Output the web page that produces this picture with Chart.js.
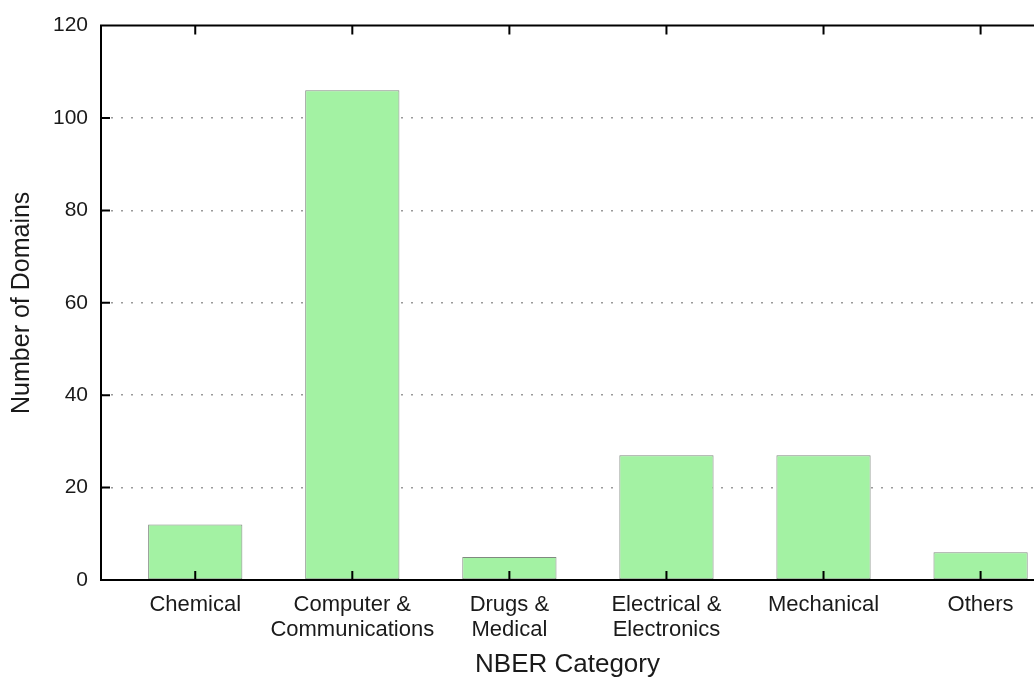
<!DOCTYPE html>
<html>
<head>
<meta charset="utf-8">
<script src="https://cdn.jsdelivr.net/npm/chart.js@4"></script>
<style>
    html, body { margin: 0; padding: 0; background: #fff; overflow: hidden; }
    #wrap { width: 1034px; height: 681px; position: relative; }
</style>
</head>
<body>
<div id="wrap"><canvas id="chart"></canvas></div>
<script>
// Dados
const categories = [
    'Chemical',
    ['Computer &', 'Communications'],
    ['Drugs &', 'Medical'],
    ['Electrical &', 'Electronics'],
    'Mechanical',
    'Others'
];
const domainCounts = [12, 106, 5, 27, 27, 6];
const yTicks = [0, 20, 40, 60, 80, 100, 120];

const TEXT = '#1a1a1a';
Chart.defaults.font.family = "'Liberation Sans', Arial, sans-serif";
Chart.defaults.color = TEXT;

// Moldura estilo gnuplot: borda superior e marcas para dentro
const frame = {
    id: 'frame',
    afterDatasetsDraw(chart) {
        const { ctx, chartArea: { top, bottom, left, right }, scales: { x, y } } = chart;
        ctx.save();
        ctx.strokeStyle = '#000';
        ctx.lineWidth = 2;
        ctx.beginPath();
        ctx.moveTo(left, top);
        ctx.lineTo(right, top);
        ctx.moveTo(left, top - 1);
        ctx.lineTo(left, bottom + 1);
        ctx.moveTo(left, bottom);
        ctx.lineTo(right, bottom);
        const len = 9;
        categories.forEach((_, i) => {
            const px = x.getPixelForValue(i);
            ctx.moveTo(px, bottom);
            ctx.lineTo(px, bottom - len);
            ctx.moveTo(px, top);
            ctx.lineTo(px, top + len);
        });
        yTicks.forEach(v => {
            const py = y.getPixelForValue(v);
            ctx.moveTo(left, py);
            ctx.lineTo(left + len, py);
        });
        ctx.stroke();
        ctx.restore();
    }
};

new Chart(document.getElementById('chart'), {
    type: 'bar',
    data: {
        datasets: [{
            label: 'Number of Domains',
            data: domainCounts.map((v, i) => ({ x: i, y: v })),
            backgroundColor: '#a3f2a3',
            borderColor: '#808a80',
            borderWidth: 1,
            borderSkipped: false,
            categoryPercentage: 1,
            barPercentage: 0.6
        }]
    },
    options: {
        responsive: true,
        maintainAspectRatio: false,
        animation: false,
        layout: { padding: { top: 22, right: 0, left: 0, bottom: 0 } },
        plugins: {
            legend: { display: false },
            tooltip: { enabled: false }
        },
        scales: {
            x: {
                type: 'linear',
                offset: false,
                min: -0.6,
                max: 5.34,
                afterBuildTicks: (scale) => {
                    scale.ticks = categories.map((_, i) => ({ value: i }));
                },
                afterFit: (scale) => { scale.height = 101; },
                grid: { display: false, drawTicks: false },
                border: { display: false },
                ticks: {
                    autoSkip: false,
                    maxRotation: 0,
                    padding: 12,
                    font: { size: 22, lineHeight: 1.14 },
                    callback: (v) => categories[v]
                },
                title: {
                    display: true,
                    text: 'NBER Category',
                    font: { size: 26 },
                    padding: { top: 0, bottom: 1 }
                }
            },
            y: {
                min: 0,
                max: 120,
                z: 1,
                afterBuildTicks: (scale) => {
                    scale.ticks = yTicks.map(v => ({ value: v }));
                },
                afterFit: (scale) => { scale.width = 101; },
                grid: {
                    drawTicks: false,
                    color: (c) => (c.tick.value === 0 || c.tick.value === 120) ? 'rgba(0,0,0,0)' : '#9a9a9a',
                    lineWidth: 1.5
                },
                border: { display: false, dash: [2, 8] },
                ticks: {
                    padding: 13,
                    font: { size: 21 }
                },
                title: {
                    display: true,
                    text: 'Number of Domains',
                    font: { size: 25 },
                    padding: { top: 7, bottom: 0 }
                }
            }
        }
    },
    plugins: [frame]
});
</script>
</body>
</html>
